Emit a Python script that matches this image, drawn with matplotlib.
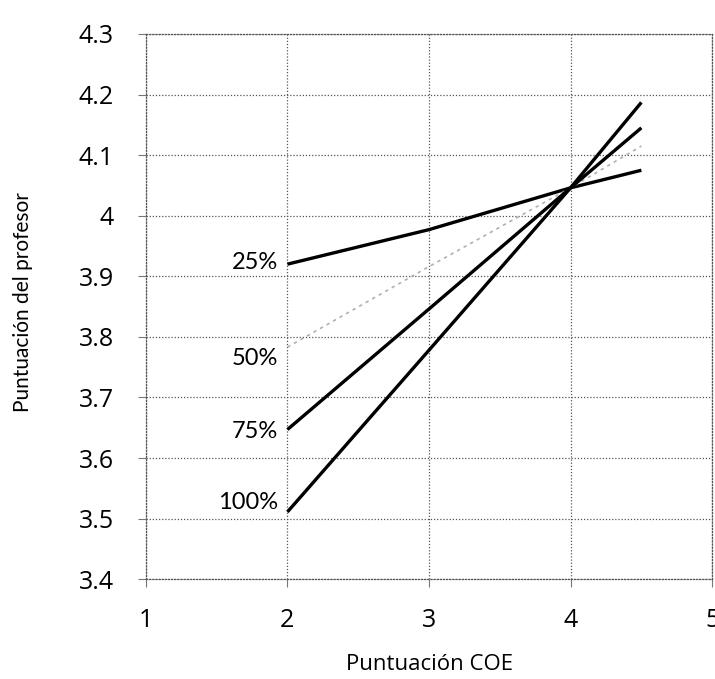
import matplotlib
matplotlib.use("Agg")
import matplotlib.pyplot as plt

# datos
coe = [2, 3, 4, 4.5]
etiquetas = ["25%", "50%", "75%", "100%"]
p25 = [3.92, 3.977, 4.046, 4.075]
p50 = [3.783, 3.916, 4.046, 4.115]
p75 = [3.647, 3.846, 4.046, 4.145]
p100 = [3.511, 3.778, 4.046, 4.187]
xticks = [1, 2, 3, 4, 5]
yticks = [3.4, 3.5, 3.6, 3.7, 3.8, 3.9, 4, 4.1, 4.2, 4.3]
yticklabels = ["3.4", "3.5", "3.6", "3.7", "3.8", "3.9", "4", "4.1", "4.2", "4.3"]

plt.rcParams['font.family'] = ['Open Sans', 'DejaVu Sans']

fig = plt.figure(figsize=(7.15, 6.79), dpi=100)
ax = fig.add_axes([0.204, 0.147, 0.792, 0.803])

series = [p25, p50, p75, p100]
estilos = [
    dict(color='black', lw=2.4),
    dict(color='#b0b0b0', lw=1.2, ls=(0, (2, 2.5))),
    dict(color='black', lw=2.4),
    dict(color='black', lw=2.4),
]
# desplazamiento vertical de cada rotulo respecto al inicio de su linea
desp = [0.002, -0.018, -0.003, 0.015]
for ys, et, st, d in zip(series, etiquetas, estilos, desp):
    ax.plot(coe, ys, solid_capstyle='butt', zorder=3, **st)
    ax.text(coe[0] - 0.067, ys[0] + d, et, ha='right', va='center',
            fontsize=17, family=['Lato', 'DejaVu Sans'])

ax.set_xlim(1, 5)
ax.set_ylim(3.4, 4.3)
ax.set_xticks(xticks)
ax.set_yticks(yticks)
ax.set_yticklabels(yticklabels)
ax.tick_params(axis='both', length=6, width=0.8, color='#777777',
               labelsize=18, labelcolor='black')
ax.tick_params(axis='x', pad=15)
ax.tick_params(axis='y', pad=17)

ax.grid(True, color='#555555', lw=0.9, ls=(0, (1, 1.5)))
for s in ax.spines.values():
    s.set_color('#555555')
    s.set_linewidth(0.9)
    s.set_linestyle((0, (1, 1.5)))

fig.text(0.601, 0.021, "Puntuación COE", fontsize=16, ha='center', va='center')
fig.text(0.032, 0.555, "Puntuación del profesor", fontsize=15, rotation=90,
         ha='center', va='center', family=['Lato', 'DejaVu Sans'])

fig.savefig("out.png", dpi=100)
